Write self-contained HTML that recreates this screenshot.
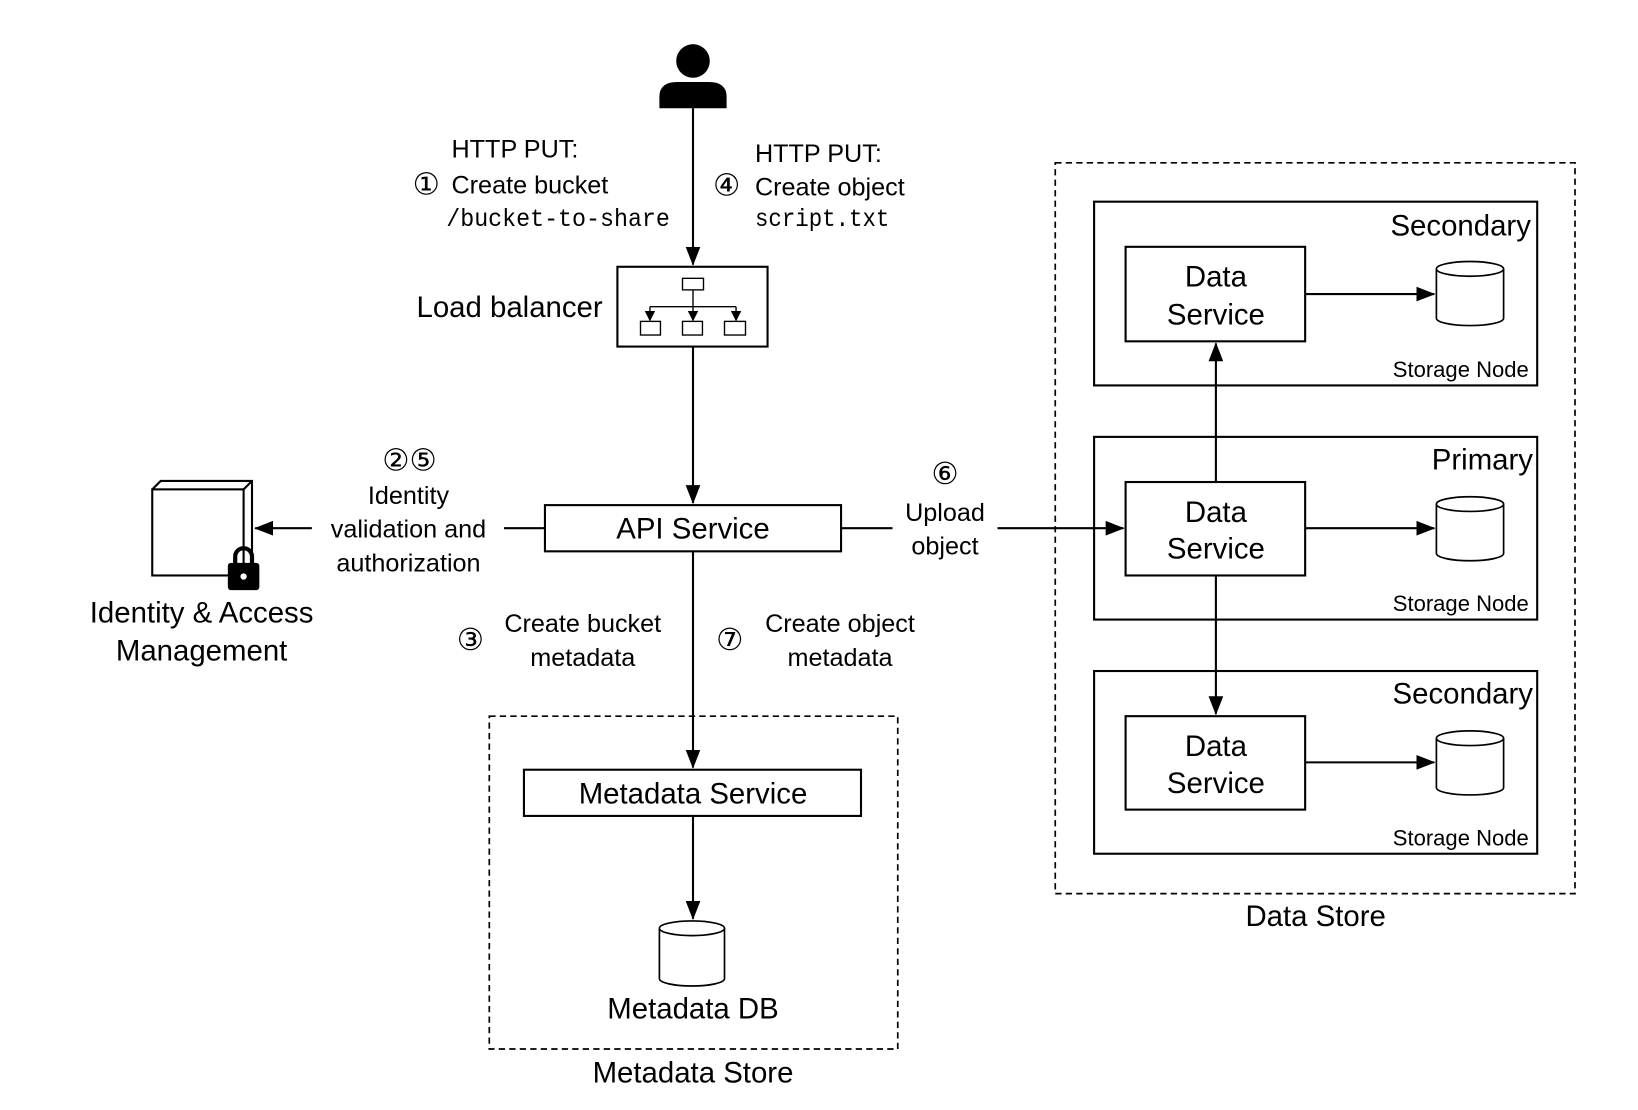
<!DOCTYPE html>
<html><head><meta charset="utf-8"><style>
html,body{margin:0;padding:0;background:#fff}
svg{display:block}
text{font-family:"Liberation Sans","DejaVu Sans",sans-serif;fill:#000}
.m{font-family:"Liberation Mono","DejaVu Sans Mono",monospace}
.c{font-family:"DejaVu Sans",sans-serif;font-size:29px}
</style></head><body>
<svg width="1638" height="1110" viewBox="0 0 1560 1057" xmlns="http://www.w3.org/2000/svg">
<defs>
<marker id="a" markerWidth="10" markerHeight="10" refX="9" refY="5" orient="auto" markerUnits="userSpaceOnUse"><path d="M0,0 L10,5 L0,10 z" fill="#000"/></marker>
<marker id="A" markerWidth="18" markerHeight="14" refX="17" refY="7" orient="auto" markerUnits="userSpaceOnUse"><path d="M0,0 L18,7 L0,14 z" fill="#000"/></marker>
</defs>
<g stroke="#000" stroke-width="2" fill="none">
<circle cx="660" cy="58" r="16" fill="#000" stroke="none"/>
<path d="M628,103 L628,92 Q628,78 645,78 L675,78 Q692,78 692,92 L692,103 z" fill="#000" stroke="none"/>
<line x1="660" y1="103" x2="660" y2="252" marker-end="url(#A)"/>
<rect x="588" y="254" width="143" height="76"/>
<g stroke-width="1.3">
<rect x="650" y="265" width="20" height="11"/>
<line x1="660" y1="276" x2="660" y2="305" marker-end="url(#a)"/>
<line x1="619" y1="292" x2="701" y2="292"/>
<line x1="619" y1="292" x2="619" y2="305" marker-end="url(#a)"/>
<line x1="701" y1="292" x2="701" y2="305" marker-end="url(#a)"/>
<rect x="610" y="306" width="19" height="13"/>
<rect x="650" y="306" width="19" height="13"/>
<rect x="690" y="306" width="20" height="13"/>
</g>
<line x1="660" y1="330" x2="660" y2="479" marker-end="url(#A)"/>
<rect x="519" y="481" width="282" height="44"/>
<line x1="480" y1="503" x2="519" y2="503"/>
<line x1="297" y1="503" x2="243" y2="503" marker-end="url(#A)"/>
<line x1="801" y1="503" x2="850" y2="503"/>
<line x1="950" y1="503" x2="1070" y2="503" marker-end="url(#A)"/>
<line x1="660" y1="525" x2="660" y2="731" marker-end="url(#A)"/>
<rect x="145" y="466" width="87" height="82"/>
<path d="M145,466 L153,458 L240,458 L240,540 L232,548 M232,466 L240,458"/>
<rect x="466" y="682" width="389" height="317" stroke-dasharray="6,4" stroke-width="1.6"/>
<rect x="499" y="733" width="321" height="44"/>
<line x1="660" y1="777" x2="660" y2="875" marker-end="url(#A)"/>
<rect x="1005" y="155" width="495" height="696" stroke-dasharray="6,4" stroke-width="1.6"/>
<rect x="1042" y="192" width="422" height="175"/>
<rect x="1042" y="416" width="422" height="174"/>
<rect x="1042" y="639" width="422" height="174"/>
<rect x="1072" y="235" width="171" height="90"/>
<rect x="1072" y="459" width="171" height="89"/>
<rect x="1072" y="682" width="171" height="89"/>
<line x1="1243" y1="280" x2="1366" y2="280" marker-end="url(#A)"/>
<line x1="1243" y1="503" x2="1366" y2="503" marker-end="url(#A)"/>
<line x1="1243" y1="726" x2="1366" y2="726" marker-end="url(#A)"/>
<line x1="1158" y1="459" x2="1158" y2="327" marker-end="url(#A)"/>
<line x1="1158" y1="548" x2="1158" y2="680" marker-end="url(#A)"/>
<g fill="#fff" stroke-width="1.6">
<path d="M1368,256 L1368,303 A32,7 0 0 0 1432,303 L1432,256"/><ellipse cx="1400" cy="256" rx="32" ry="7"/>
<path d="M1368,480 L1368,527 A32,7 0 0 0 1432,527 L1432,480"/><ellipse cx="1400" cy="480" rx="32" ry="7"/>
<path d="M1368,703 L1368,750 A32,7 0 0 0 1432,750 L1432,703"/><ellipse cx="1400" cy="703" rx="32" ry="7"/>
<path d="M628,884 L628,932 A31,7 0 0 0 690,932 L690,884"/><ellipse cx="659" cy="884" rx="31" ry="7"/>
</g>
</g>
<path d="M224,537 L224,530 A8,8 0 0 1 240,530 L240,537" stroke="#000" stroke-width="4" fill="none"/>
<rect x="217" y="536" width="30" height="26" rx="3" fill="#000"/>
<circle cx="232" cy="549" r="3" fill="#fff"/>
<g font-size="24">
<text x="430" y="150">HTTP PUT:</text>
<text x="393" y="185" class="c">①</text>
<text x="430" y="184">Create bucket</text>
<text x="425" y="215" class="m" font-size="24" textLength="213" lengthAdjust="spacingAndGlyphs">/bucket-to-share</text>
<text x="719" y="154">HTTP PUT:</text>
<text x="679" y="186" class="c">④</text>
<text x="719" y="186">Create object</text>
<text x="719" y="215" class="m" font-size="24" textLength="128" lengthAdjust="spacingAndGlyphs">script.txt</text>
<g text-anchor="middle">
<text x="390" y="448" class="c">②⑤</text>
<text x="389" y="480">Identity</text>
<text x="389" y="512">validation and</text>
<text x="389" y="544">authorization</text>
<text x="900" y="461" class="c">⑥</text>
<text x="900" y="496">Upload</text>
<text x="900" y="528">object</text>
<text x="448" y="619" class="c">③</text>
<text x="555" y="602">Create bucket</text>
<text x="555" y="634">metadata</text>
<text x="695" y="619" class="c">⑦</text>
<text x="800" y="602">Create object</text>
<text x="800" y="634">metadata</text>
</g>
</g>
<g font-size="28" text-anchor="middle">
<text x="574" y="302" text-anchor="end">Load balancer</text>
<text x="660" y="513">API Service</text>
<text x="192" y="593">Identity &amp; Access</text>
<text x="192" y="629">Management</text>
<text x="660" y="765">Metadata Service</text>
<text x="660" y="970">Metadata DB</text>
<text x="660" y="1031">Metadata Store</text>
<text x="1253" y="882">Data Store</text>
<text x="1158" y="273">Data</text><text x="1158" y="309">Service</text>
<text x="1158" y="497">Data</text><text x="1158" y="532">Service</text>
<text x="1158" y="720">Data</text><text x="1158" y="755">Service</text>
<text x="1458" y="224" text-anchor="end">Secondary</text>
<text x="1460" y="447" text-anchor="end">Primary</text>
<text x="1460" y="670" text-anchor="end">Secondary</text>
</g>
<g font-size="21" text-anchor="end">
<text x="1456" y="359">Storage Node</text>
<text x="1456" y="582">Storage Node</text>
<text x="1456" y="805">Storage Node</text>
</g>
</svg>
</body></html>
